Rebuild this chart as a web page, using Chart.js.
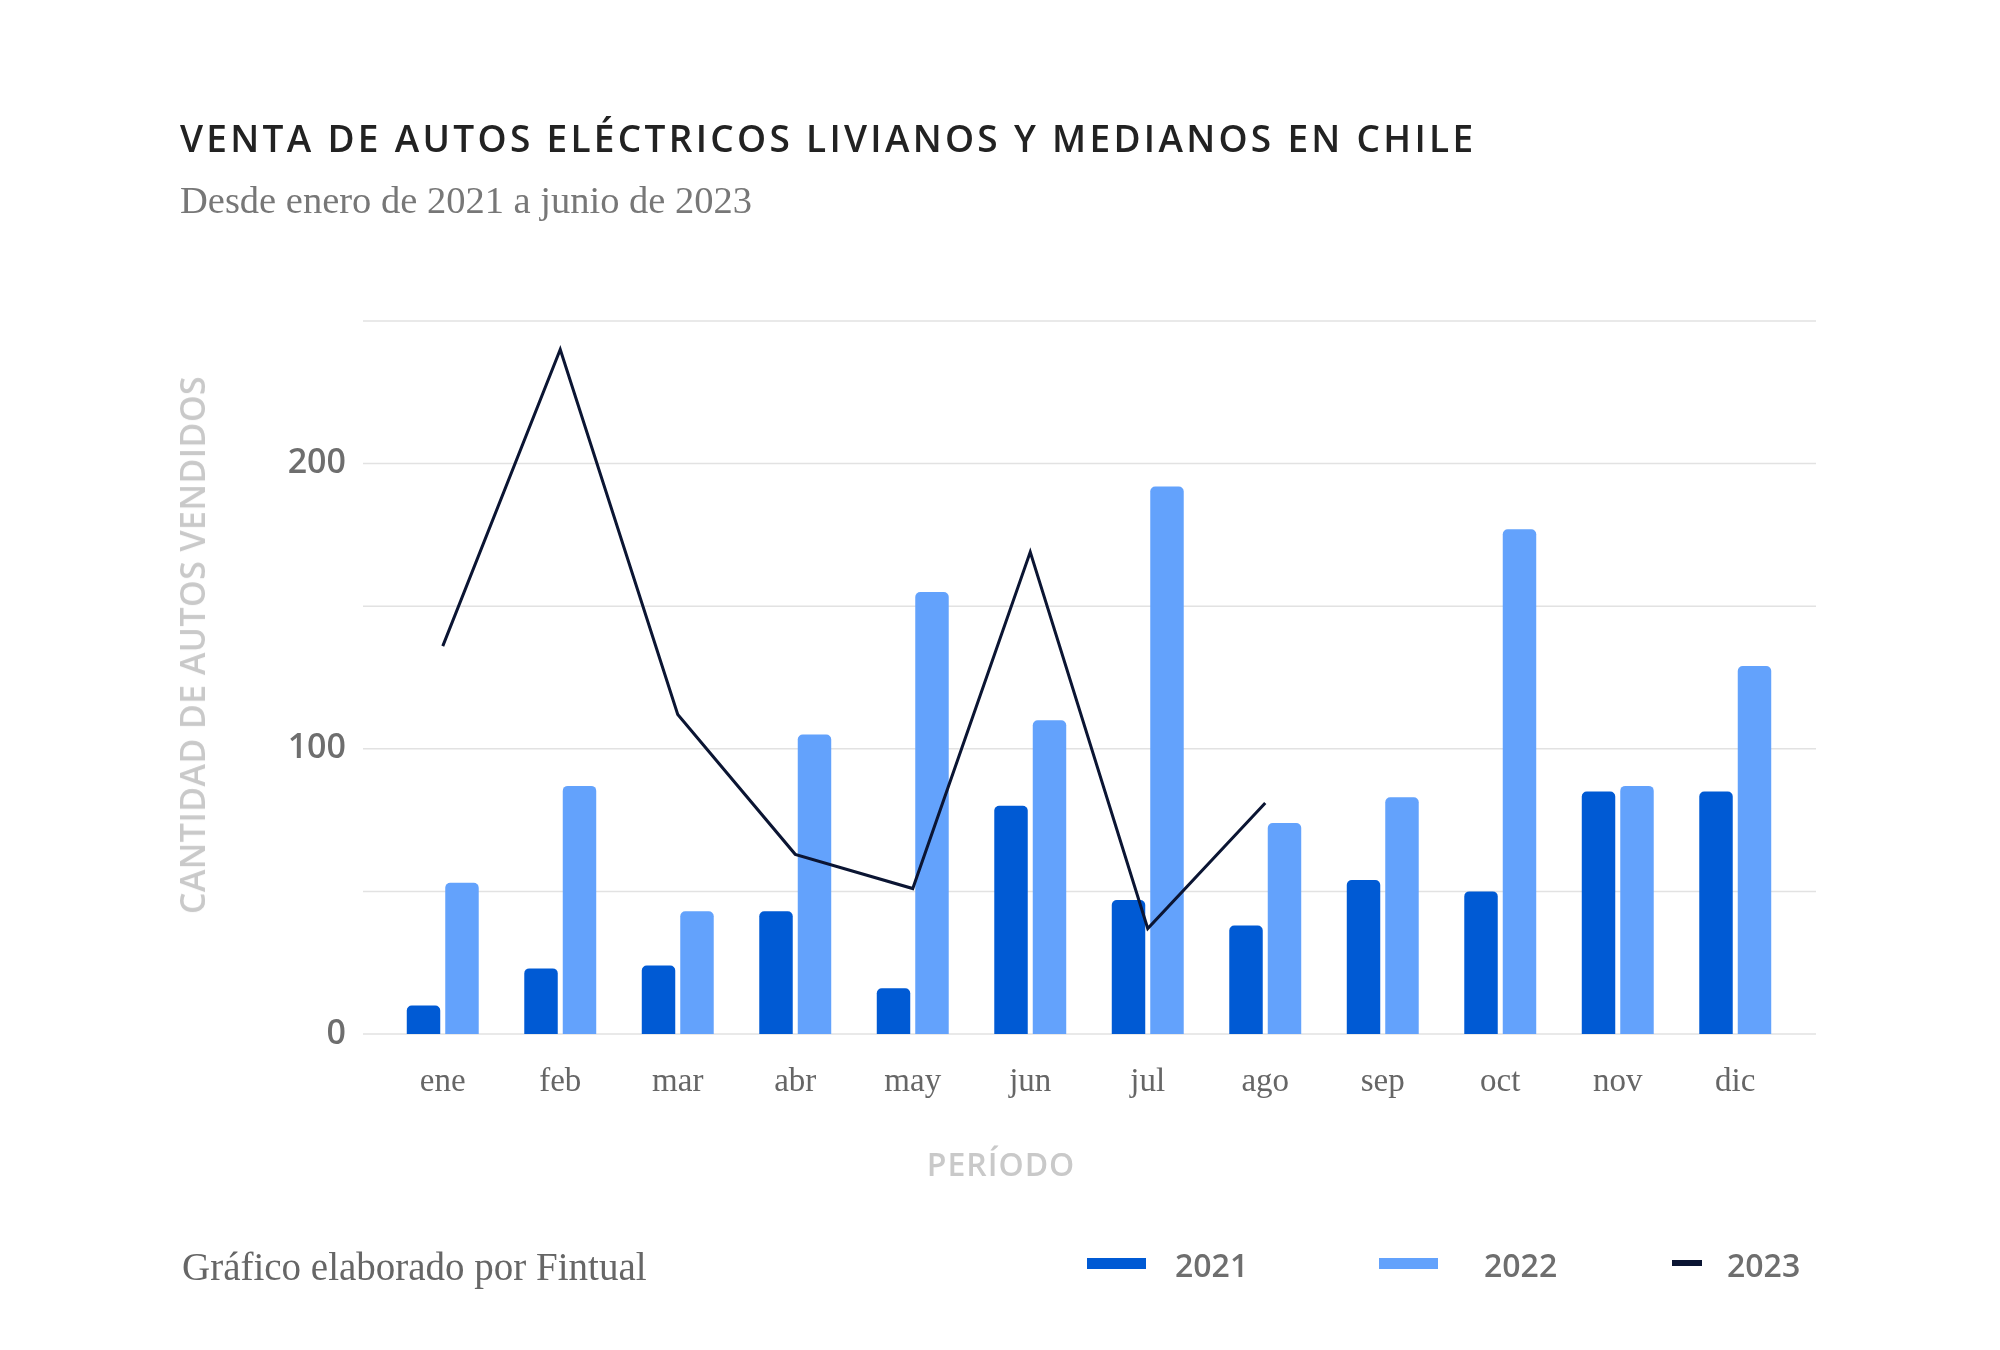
<!DOCTYPE html>
<html lang="es">
<head>
<meta charset="utf-8">
<title>Venta de autos eléctricos livianos y medianos en Chile</title>
<script src="https://cdn.jsdelivr.net/npm/chart.js@4.4.0/dist/chart.umd.min.js"></script>
<style>
  body { margin: 0; background: #fff; }
  #wrap { position: relative; width: 2000px; height: 1350px; overflow: hidden; background: #fff; }
  #grafico { position: absolute; left: 0; top: 0; }
  .txt { position: absolute; white-space: nowrap; line-height: 1; }
  #titulo { left: 180px; top: 112px; font: 600 37px "Open Sans"; letter-spacing: 3.3px; color: #222; }
  #subtitulo { left: 180px; top: 178px; font: 38.5px "Liberation Serif"; color: #777; }
  #pie { left: 182px; top: 1244px; font: 39px "Liberation Serif"; color: #666; }
  #ejeX { left: 1001px; top: 1142px; transform: translateX(-50%); font: 600 32px "Open Sans"; letter-spacing: 1px; color: #c9c9c9; }
  #ejeY { left: 192px; top: 645px; transform: translate(-50%, -50%) rotate(-90deg); font: 600 34px "Open Sans"; letter-spacing: 0.4px; color: #c9c9c9; }
  .caja { position: absolute; }
  .leyenda { position: absolute; top: 1249px; font: 600 32px "Open Sans"; line-height: 1; color: #6e6e6e; }
</style>
</head>
<body>
<div id="wrap">
  <canvas id="grafico" width="2000" height="1350"></canvas>
  <div class="txt" id="titulo">VENTA DE AUTOS ELÉCTRICOS LIVIANOS Y MEDIANOS EN CHILE</div>
  <div class="txt" id="subtitulo">Desde enero de 2021 a junio de 2023</div>
  <div class="txt" id="ejeY">CANTIDAD DE AUTOS VENDIDOS</div>
  <div class="txt" id="ejeX">PERÍODO</div>
  <div class="txt" id="pie">Gráfico elaborado por Fintual</div>
  <div id="leyenda"></div>
</div>
<script>
// datos
var meses = ['ene', 'feb', 'mar', 'abr', 'may', 'jun', 'jul', 'ago', 'sep', 'oct', 'nov', 'dic'];
var ventas2021 = [10, 23, 24, 43, 16, 80, 47, 38, 54, 50, 85, 85];
var ventas2022 = [53, 87, 43, 105, 155, 110, 192, 74, 83, 177, 87, 129];
var ventas2023 = [136, 240, 112, 63, 51, 169, 37, 81];

var azulOscuro = '#005ad4';
var azulClaro = '#63a2fc';
var marino = '#0b1533';

// lineas horizontales un poco mas largas que la zona de las barras
var lineasFondo = {
    id: 'lineasFondo',
    beforeDatasetsDraw: function(chart, args, opts) {
        var y = chart.scales.y;
        var area = chart.chartArea;
        var ctx = chart.ctx;
        ctx.save();
        ctx.strokeStyle = opts.color;
        ctx.lineWidth = opts.width;
        y.ticks.forEach(function(t) {
            var py = y.getPixelForValue(t.value);
            ctx.beginPath();
            ctx.moveTo(area.left - opts.extraIzq, py);
            ctx.lineTo(area.right + opts.extraDer, py);
            ctx.stroke();
        });
        ctx.restore();
    }
};

var ctx = document.getElementById('grafico').getContext('2d');

var data = {
    labels: meses,
    datasets: [{
        type: 'line',
        label: '2023',
        data: ventas2023,
        borderColor: marino,
        backgroundColor: marino,
        borderWidth: 3,
        pointRadius: 0,
        tension: 0,
        fill: false,
        order: 0
    }, {
        label: '2021',
        data: ventas2021,
        backgroundColor: azulOscuro,
        borderRadius: 5,
        barPercentage: 0.87,
        categoryPercentage: 0.655,
        order: 1
    }, {
        label: '2022',
        data: ventas2022,
        backgroundColor: azulClaro,
        borderRadius: 5,
        barPercentage: 0.87,
        categoryPercentage: 0.655,
        order: 1
    }]
};

var config = {
    type: 'bar',
    data: data,
    options: {
        responsive: false,
        animation: false,
        devicePixelRatio: 1,
        layout: {
            padding: { left: 170, right: 206, top: 321, bottom: 226 }
        },
        scales: {
            x: {
                grid: { display: false, drawTicks: false },
                border: { display: false },
                ticks: {
                    color: '#666',
                    padding: 29,
                    maxRotation: 0,
                    font: { family: 'Liberation Serif', size: 33 }
                },
                afterFit: function(scale) { scale.height = 90; }
            },
            y: {
                min: 0,
                max: 250,
                grid: { display: false, drawTicks: false },
                border: { display: false },
                ticks: {
                    stepSize: 50,
                    color: '#6e6e6e',
                    padding: 38,
                    font: { family: 'Open Sans', size: 34, weight: '600' },
                    callback: function(v) { return v % 100 === 0 ? v : ''; }
                },
                afterFit: function(scale) { scale.width = 214; }
            }
        },
        plugins: {
            legend: { display: false },
            tooltip: { enabled: false },
            lineasFondo: { color: '#e2e2e2', width: 1.5, extraIzq: 21, extraDer: 22 }
        }
    },
    plugins: [lineasFondo]
};

var myChart = new Chart(ctx, config);

// leyenda en HTML a partir de los datasets
var posLeyenda = {
    '2021': { caja: 1087, ancho: 59, alto: 11, top: 1258, texto: 1175 },
    '2022': { caja: 1379, ancho: 59, alto: 11, top: 1258, texto: 1484 },
    '2023': { caja: 1672, ancho: 30, alto: 6, top: 1260, texto: 1727 }
};
var leyenda = document.getElementById('leyenda');
myChart.data.datasets.forEach(function(ds) {
    var p = posLeyenda[ds.label];
    var caja = document.createElement('div');
    caja.className = 'caja';
    caja.style.left = p.caja + 'px';
    caja.style.top = p.top + 'px';
    caja.style.width = p.ancho + 'px';
    caja.style.height = p.alto + 'px';
    caja.style.background = ds.type === 'line' ? ds.borderColor : ds.backgroundColor;
    leyenda.appendChild(caja);
    var txt = document.createElement('div');
    txt.className = 'leyenda';
    txt.style.left = p.texto + 'px';
    txt.textContent = ds.label;
    leyenda.appendChild(txt);
});
</script>
</body>
</html>
